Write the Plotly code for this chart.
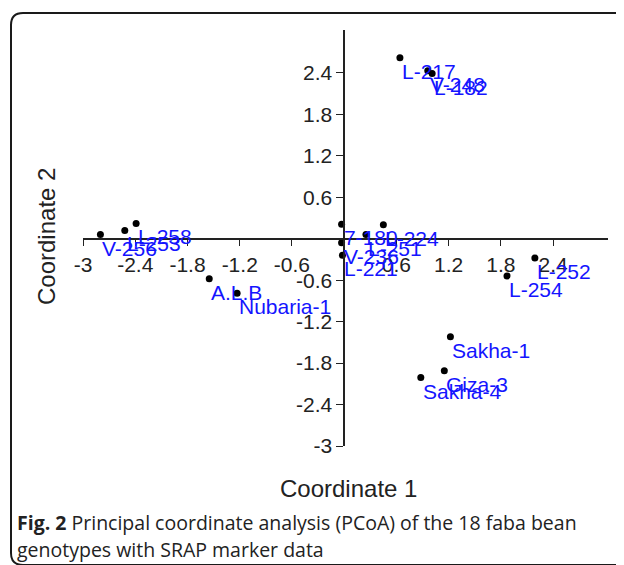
import plotly.graph_objects as go

# ---- data ----
genotypes = ["L-217", "V-248", "L-182", "V-256", "L-253", "L-258", "A.L.B", "Nubaria-1",
             "7-180", "V-236", "L-221", "L-251", "L-224",
             "Sakha-1", "Giza-3", "Sakha-4", "L-252", "L-254"]
coord1 = [0.64, 0.96, 1.01, -2.80, -2.52, -2.39, -1.55, -1.23,
          -0.03, -0.03, -0.02, 0.25, 0.45,
          1.22, 1.15, 0.88, 2.19, 1.87]
coord2 = [2.62, 2.43, 2.39, 0.06, 0.12, 0.22, -0.58, -0.79,
          0.21, -0.06, -0.24, 0.06, 0.20,
          -1.42, -1.91, -2.01, -0.28, -0.54]
tick_vals = [-3, -2.4, -1.8, -1.2, -0.6, 0.6, 1.2, 1.8, 2.4]
tick_text = ["-3", "-2.4", "-1.8", "-1.2", "-0.6", "0.6", "1.2", "1.8", "2.4"]

OFF = 8  # page body margin
W, H = 624 - OFF, 565 - OFF
ML, MT = 83 - OFF, 30 - OFF
MR = W - (608 - OFF)
MB = H - (446 - OFF)
PW, PH = W - ML - MR, H - MT - MB
XR = [-3, 3.03]
YR = [-3, 3.02]


def px(x):
    return (x - OFF - ML) / PW


def py(y):
    return (H - MB - (y - OFF)) / PH


fig = go.Figure()
fig.add_trace(go.Scatter(
    x=coord1, y=coord2, mode="markers",
    marker=dict(color="black", size=7),
    cliponaxis=False, hoverinfo="skip"))

label_font = dict(family="Liberation Sans, Arial", size=21, color="#1414ff")
for g, cx, cy in zip(genotypes, coord1, coord2):
    fig.add_annotation(x=cx, y=cy, text=g, showarrow=False, xanchor="left", yanchor="top",
                       xshift=0, yshift=0, font=label_font)

axis_font = dict(family="Liberation Sans, Arial", size=21, color="#222")
fig.update_layout(
    width=W, height=H, margin=dict(l=ML, r=MR, t=MT, b=MB),
    paper_bgcolor="white", plot_bgcolor="white", showlegend=False,
    xaxis=dict(range=XR, anchor="free", position=(0 - YR[0]) / (YR[1] - YR[0]),
               tickvals=tick_vals, ticktext=tick_text, ticks="outside", ticklen=7,
               tickcolor="#222", showline=True, linecolor="#222", linewidth=1.5,
               showgrid=False, zeroline=False, tickfont=axis_font),
    yaxis=dict(range=YR, anchor="free", position=(0 - XR[0]) / (XR[1] - XR[0]),
               tickvals=tick_vals, ticktext=tick_text, ticks="outside", ticklen=7,
               tickcolor="#222", showline=True, linecolor="#222", linewidth=1.5,
               showgrid=False, zeroline=False, tickfont=axis_font),
)

title_font = dict(family="Liberation Sans, Arial", size=24, color="#222")
fig.add_annotation(text="Coordinate 1", x=px(348), y=py(488), xref="paper", yref="paper",
                   showarrow=False, font=title_font, xanchor="center", yanchor="middle")
fig.add_annotation(text="Coordinate 2", x=px(46), y=py(237), xref="paper", yref="paper",
                   showarrow=False, font=title_font, textangle=-90,
                   xanchor="center", yanchor="middle")

cap_font = dict(family="Open Sans", size=19.5, color="#222")
fig.add_annotation(text="<b>Fig. 2</b> Principal coordinate analysis (PCoA) of the 18 faba bean",
                   x=px(15), y=py(522), xref="paper", yref="paper", showarrow=False,
                   font=cap_font, xanchor="left", yanchor="middle")
fig.add_annotation(text="genotypes with SRAP marker data",
                   x=px(15), y=py(549), xref="paper", yref="paper", showarrow=False,
                   font=cap_font, xanchor="left", yanchor="middle")

# rounded frame
path = (f"M {px(624)},{py(565)} L {px(23)},{py(565)} Q {px(11)},{py(565)} {px(11)},{py(553)} "
        f"L {px(11)},{py(25)} Q {px(11)},{py(13)} {px(23)},{py(13)} L {px(624)},{py(13)}")
fig.add_shape(type="path", path=path, xref="paper", yref="paper",
              line=dict(color="#1a1a1a", width=2))

fig.write_html("out.html")
